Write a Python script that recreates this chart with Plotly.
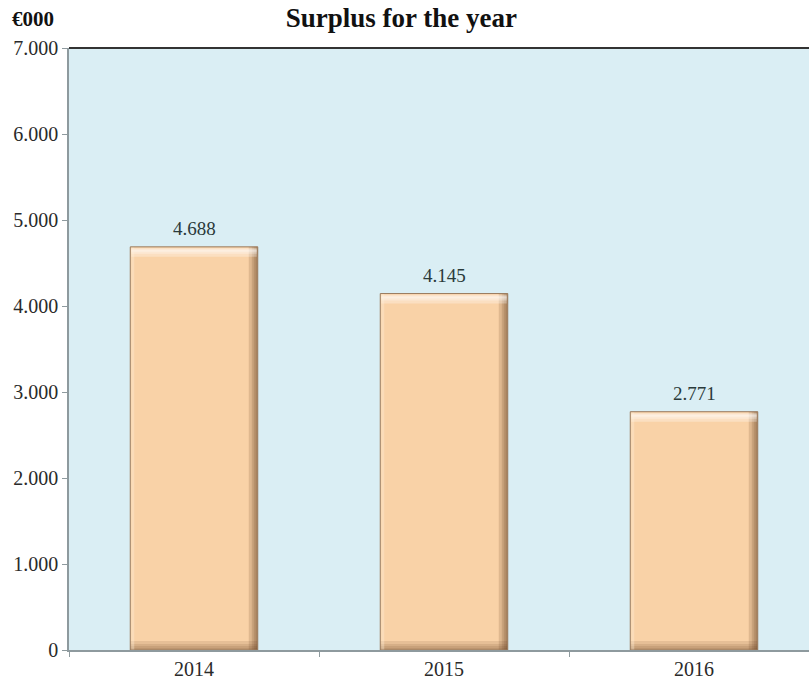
import plotly.graph_objects as go

years = ["2014", "2015", "2016"]
surplus = [4688, 4145, 2771]
y_ticks = [0, 1000, 2000, 3000, 4000, 5000, 6000, 7000]
y_tick_labels = ["0", "1.000", "2.000", "3.000", "4.000", "5.000", "6.000", "7.000"]
value_labels = ["4.688", "4.145", "2.771"]

FONT = "Liberation Serif, Times New Roman, serif"
BAR_W = 0.51
PX_X = 1 / 250          # one pixel in category units
PX_Y = 7000 / 602       # one pixel in data units
n = len(years)

fig = go.Figure()


def layer(y, base=None, width=BAR_W, offset=None, color="#F9D2A7"):
    kw = dict(x=years, y=y, width=width, marker=dict(color=color, line=dict(width=0)),
              hoverinfo="skip")
    if base is not None:
        kw["base"] = base
    if offset is not None:
        kw["offset"] = offset
    fig.add_trace(go.Bar(**kw))


# main body
layer(surplus, color="#F9D2A7")
# bottom shading (gradient toward bottom edge)
for k in (9, 6, 4, 2):
    layer([k * PX_Y] * n, color="rgba(110,70,35,0.13)")
# right shading (gradient toward right edge)
for k in (9, 6, 4, 2):
    layer(surplus, width=k * PX_X, offset=BAR_W / 2 - k * PX_X, color="rgba(95,60,30,0.17)")
# top highlight band
for top, bot in ((1, 10), (2, 7), (3, 5)):
    layer([(bot - top) * PX_Y] * n, base=[v - bot * PX_Y for v in surplus],
          width=BAR_W - 2 * PX_X, color="rgba(255,255,255,0.3)")
# left light edge
layer(surplus, width=3 * PX_X, offset=-BAR_W / 2 + PX_X, color="rgba(255,240,220,0.35)")
# outline
fig.add_trace(go.Bar(x=years, y=surplus, width=BAR_W,
                     marker=dict(color="rgba(0,0,0,0)", line=dict(color="#9A7C60", width=1)),
                     hoverinfo="skip"))

annotations = [dict(text="<b>€000</b>", xref="paper", yref="paper",
                    x=-0.08, y=1.049, xanchor="left", yanchor="middle",
                    showarrow=False, font=dict(family=FONT, size=21, color="#111111"))]
for i, (v, lab) in enumerate(zip(surplus, value_labels)):
    annotations.append(dict(x=i, y=v, text=lab, showarrow=False, xref="x", yref="y",
                            yanchor="middle", yshift=18,
                            font=dict(family=FONT, size=19, color="#2A3A3A")))

fig.update_layout(
    width=809, height=691,
    margin=dict(l=69, r=0, t=48, b=41),
    paper_bgcolor="white", plot_bgcolor="#DAEEF4",
    showlegend=False, barmode="overlay",
    title=dict(text="<b>Surplus for the year</b>", x=0.496, xanchor="center",
               y=0.975, yanchor="middle",
               font=dict(family=FONT, size=27, color="#111111")),
    annotations=annotations,
)
fig.update_xaxes(type="category", range=[-0.5, 2.46], showline=True, linecolor="#8E9A9E",
                 linewidth=1.5, ticks="outside", tickson="boundaries", ticklen=5,
                 tickcolor="#8E9A9E", tickfont=dict(family=FONT, size=20, color="#2A2A2A"),
                 showgrid=False, fixedrange=True)
fig.update_yaxes(range=[0, 7000], tickvals=y_ticks, ticktext=y_tick_labels,
                 showline=True, linecolor="#8E9A9E", linewidth=1.5,
                 ticks="outside", ticklen=5, tickcolor="#8E9A9E",
                 tickfont=dict(family=FONT, size=20, color="#2A2A2A"), showgrid=False,
                 zeroline=False, fixedrange=True)
fig.add_shape(type="line", xref="paper", yref="paper", x0=0, x1=1, y0=1, y1=1,
              line=dict(color="#333333", width=2))

fig.write_html("out.html", post_script="document.body.style.margin='0';",
               config={"displayModeBar": False})
